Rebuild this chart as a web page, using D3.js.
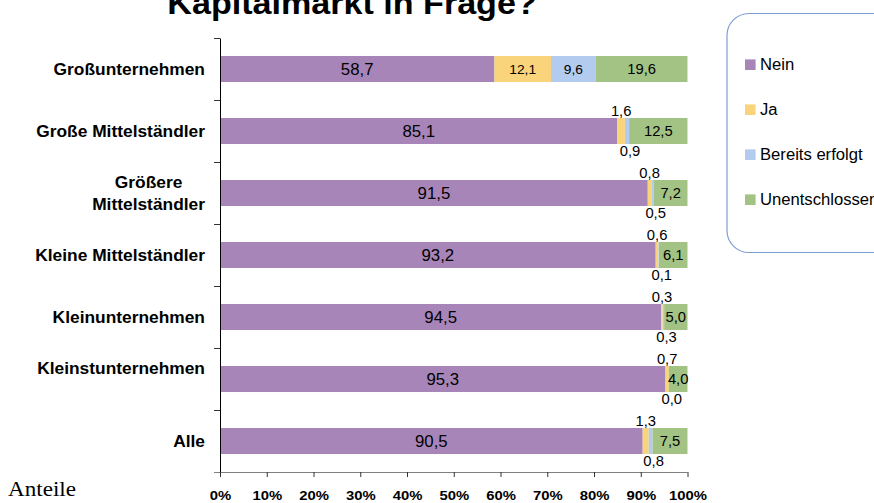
<!DOCTYPE html>
<html>
<head>
<meta charset="utf-8">
<script src="https://cdn.jsdelivr.net/npm/d3@7"></script>
<style>
  body { margin: 0; background: #fff; }
  text { font-family: "Liberation Sans", Arial, sans-serif; fill: #000; }
</style>
</head>
<body>
<div id="chart"></div>
<script>
// category labels, one array of lines per bar
const categoryLabels = [
  ["Großunternehmen"],
  ["Große Mittelständler"],
  ["Größere", "Mittelständler"],
  ["Kleine Mittelständler"],
  ["Kleinunternehmen"],
  ["Kleinstunternehmen", ""],
  ["Alle"]
]
const seriesNames = ["Nein", "Ja", "Bereits erfolgt", "Unentschlossen"]
const nein = [58.7, 85.1, 91.5, 93.2, 94.5, 95.3, 90.5]
const ja = [12.1, 1.6, 0.8, 0.6, 0.3, 0.7, 1.3]
const bereits = [9.6, 0.9, 0.5, 0.1, 0.3, 0.0, 0.8]
const unentschlossen = [19.6, 12.5, 7.2, 6.1, 5.0, 4.0, 7.5]
const xTickValues = [0, 0.1, 0.2, 0.3, 0.4, 0.5, 0.6, 0.7, 0.8, 0.9, 1]

const colors = ["#a885b8", "#fad47b", "#b2cbee", "#a3c384"]
const WIDTH = 874, HEIGHT = 503
const SX = 1.1 // the original picture is a little stretched sideways

const svg = d3.select("#chart").append("svg")
  .attr("width", WIDTH)
  .attr("height", HEIGHT)

// build rows for d3.stack
const rows = categoryLabels.map((c, i) => ({
  key: i,
  "Nein": nein[i],
  "Ja": ja[i],
  "Bereits erfolgt": bereits[i],
  "Unentschlossen": unentschlossen[i]
}))
const stacked = d3.stack().keys(seriesNames).offset(d3.stackOffsetExpand)(rows)

const x = d3.scaleLinear().domain([0, 1]).range([220, 687.5])
const y = d3.scaleBand().domain(d3.range(categoryLabels.length))
  .range([38, 472]).paddingInner(0.58).paddingOuter(0.29)
const yEdges = d3.scaleLinear().domain([0, categoryLabels.length]).range([38, 472])

const de = d3.formatLocale({ decimal: ",", thousands: ".", grouping: [3], currency: ["", " €"] })
const fmt = de.format(".1f")

// title (cut off at the top like the original)
svg.append("text")
  .attr("transform", "translate(352,14) scale(" + SX + ",1)")
  .attr("text-anchor", "middle")
  .style("font-size", "31px")
  .style("font-weight", "bold")
  .text("Kapitalmarkt in Frage?")

// bars
const layers = svg.append("g").selectAll("g")
  .data(stacked)
  .enter().append("g")
  .attr("fill", (d, i) => colors[i])

layers.selectAll("rect")
  .data(d => d)
  .enter().append("rect")
  .attr("x", d => x(d[0]))
  .attr("y", (d, i) => y(i))
  .attr("width", d => x(d[1]) - x(d[0]))
  .attr("height", y.bandwidth())

// value labels
stacked.forEach((layer, si) => {
  const key = seriesNames[si]
  layer.forEach((d, i) => {
    const v = d.data[key]
    const cx = (x(d[0]) + x(d[1])) / 2
    const top = y(i), bottom = y(i) + y.bandwidth()
    let ty = top + y.bandwidth() / 2, dy = "0.36em", size = 14.5, sx = 1.02
    if (si === 0) { size = 16; sx = 1.05 }
    if ((si === 1 || si === 2) && v < 5) {
      // small shares go above (Ja) or below (Bereits erfolgt) the bar
      dy = "0"
      ty = si === 1 ? top - 1.5 : bottom + 12
    } else if (si === 1 || si === 2) {
      size = 13.5
    }
    svg.append("text")
      .attr("transform", "translate(" + (si === 2 && v < 5 ? cx + 3 : cx) + "," + ty + ") scale(" + sx + ",1)")
      .attr("dy", dy)
      .attr("text-anchor", "middle")
      .style("font-size", size + "px")
      .text(fmt(v))
  })
})

// y axis with ticks between the categories
const yAxis = svg.append("g")
  .attr("transform", "translate(220,0)")
  .call(d3.axisLeft(yEdges).ticks(categoryLabels.length).tickFormat("").tickSize(6).tickSizeOuter(0))
yAxis.select(".domain").attr("stroke", "#000")
yAxis.selectAll(".tick line").attr("stroke", "#333")

// category labels, multi-line blocks are right aligned and centred line by line
categoryLabels.forEach((lines, i) => {
  const cy = y(i) + y.bandwidth() / 2
  const lh = 22
  const g = svg.append("g")
  const texts = lines.map((line, k) => g.append("text")
    .style("font-size", "16px")
    .style("font-weight", "bold")
    .attr("dy", "0.36em")
    .text(line))
  const maxW = d3.max(texts, t => t.node().getComputedTextLength()) * 1.085
  texts.forEach((t, k) => {
    const ly = cy + (k - (lines.length - 1) / 2) * lh
    t.attr("text-anchor", "middle")
      .attr("transform", "translate(" + (205 - maxW / 2) + "," + ly + ") scale(1.085,1)")
  })
})

// x axis
const xAxis = svg.append("g")
  .attr("transform", "translate(0,472)")
  .call(d3.axisBottom(x).tickValues(xTickValues).tickFormat(d3.format(".0%")).tickSize(5).tickSizeOuter(0))
xAxis.select(".domain").attr("stroke", "#808080").attr("d", "M214,0.5H687.5")
xAxis.selectAll(".tick line").attr("stroke", "#333")
xAxis.selectAll(".tick text")
  .attr("y", 18.5)
  .attr("dy", "0.71em")
  .attr("transform", "scale(" + SX + ",1)")
  .style("font-size", "13.5px")
  .style("font-weight", "bold")
  .style("font-family", "'Liberation Sans', Arial, sans-serif")
  .attr("fill", "#000")

// label bottom left
svg.append("text")
  .attr("transform", "translate(8,496) scale(" + SX + ",1)")
  .style("font-family", "'Liberation Serif', 'Times New Roman', serif")
  .style("font-size", "21px")
  .text("Anteile")

// legend
const legend = svg.append("g")
legend.append("rect")
  .attr("x", 727).attr("y", 13.5)
  .attr("width", 220).attr("height", 239)
  .attr("rx", 22)
  .attr("fill", "#fff")
  .attr("stroke", "#7f9fd3")
  .attr("stroke-width", 1.2)

const legendItems = legend.selectAll(".item")
  .data(seriesNames)
  .enter().append("g")
  .attr("class", "item")
  .attr("transform", (d, i) => "translate(745," + (64.7 + i * 45) + ")")

legendItems.append("rect")
  .attr("x", 0).attr("y", -5.3)
  .attr("width", 10.6).attr("height", 10.6)
  .attr("fill", (d, i) => colors[i])

legendItems.append("text")
  .attr("transform", "translate(15,0) scale(1.04,1)")
  .attr("dy", "0.36em")
  .style("font-size", "16px")
  .text(d => d)
</script>
</body>
</html>
